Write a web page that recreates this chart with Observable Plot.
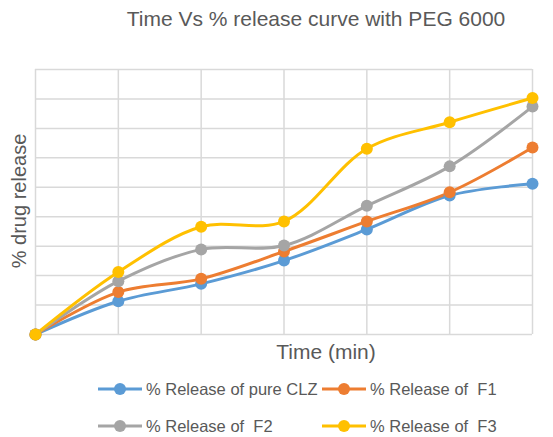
<!DOCTYPE html>
<html>
<head>
<meta charset="utf-8">
<script src="https://cdn.jsdelivr.net/npm/d3@7"></script>
<script src="https://cdn.jsdelivr.net/npm/@observablehq/plot@0.6"></script>
<style>
  body { margin: 0; background: #fff; }
  #wrap { position: relative; width: 553px; height: 437px; font-family: "Liberation Sans", Arial, sans-serif; color: #595959; }
  #wrap svg.plot { position: absolute; left: 0; top: 0; }
  .ov { position: absolute; white-space: pre; line-height: 1; }
  .leg { position: absolute; display: flex; align-items: center; white-space: pre; font-size: 16.5px; }
  .leg svg { margin-right: 4px; }
</style>
</head>
<body>
<div id="wrap"></div>
<script>
const timePoints = [0, 1, 2, 3, 4, 5, 6];
const seriesNames = ["% Release of pure CLZ", "% Release of  F1", "% Release of  F2", "% Release of  F3"];
const seriesColors = ["#5B9BD5", "#ED7D31", "#A5A5A5", "#FFC000"];
const pureCLZ = [0, 11.3, 17.2, 25.1, 35.7, 47.2, 51.2];
const F1 = [0, 14.4, 18.9, 28.2, 38.4, 48.3, 63.5];
const F2 = [0, 18.1, 28.9, 30.2, 43.7, 57.1, 77.4];
const F3 = [0, 21.2, 36.6, 38.4, 63.1, 72.1, 80.3];
const yGrid = [0, 10, 20, 30, 40, 50, 60, 70, 80, 90];

const allSeries = [pureCLZ, F1, F2, F3];
const data = [];
allSeries.forEach((vals, si) => {
  vals.forEach((v, i) => data.push({ t: timePoints[i], v, s: seriesNames[si] }));
});

const plot = Plot.plot({
  width: 553,
  height: 437,
  marginLeft: 35,
  marginRight: 21,
  marginTop: 69,
  marginBottom: 103,
  x: { domain: [0, 6], axis: null },
  y: { domain: [0, 90], axis: null },
  color: { domain: seriesNames, range: seriesColors },
  marks: [
    Plot.ruleY(yGrid, { stroke: "#d9d9d9", strokeWidth: 1.5 }),
    Plot.ruleX(timePoints, { stroke: "#d9d9d9", strokeWidth: 1.5 }),
    Plot.line(data, { x: "t", y: "v", stroke: "s", z: "s", curve: "catmull-rom", strokeWidth: 3 }),
    Plot.dot(data, { x: "t", y: "v", fill: "s", r: 6 })
  ]
});
plot.classList.add("plot");
const wrap = document.getElementById("wrap");
wrap.appendChild(plot);

function addText(txt, css) {
  const d = document.createElement("div");
  d.className = "ov";
  d.textContent = txt;
  Object.assign(d.style, css);
  wrap.appendChild(d);
  return d;
}
addText("Time Vs % release curve with PEG 6000", { left: "316px", top: "18px", fontSize: "21px", transform: "translate(-50%,-50%)" });
addText("Time (min)", { left: "326px", top: "351px", fontSize: "21px", transform: "translate(-50%,-50%)" });
addText("% drug release", { left: "19px", top: "201px", fontSize: "20px", transform: "translate(-50%,-50%) rotate(-90deg)" });

const legPos = [[98, 389], [322, 389], [98, 426], [322, 426]];
seriesNames.forEach((name, i) => {
  const el = document.createElement("div");
  el.className = "leg";
  el.style.left = legPos[i][0] + "px";
  el.style.top = (legPos[i][1] - 10) + "px";
  el.style.height = "20px";
  el.innerHTML = `<svg width="44" height="14"><line x1="0" x2="44" y1="7" y2="7" stroke="${seriesColors[i]}" stroke-width="3"/><circle cx="22" cy="7" r="6" fill="${seriesColors[i]}"/></svg><span></span>`;
  el.querySelector("span").textContent = name;
  wrap.appendChild(el);
});
</script>
</body>
</html>
